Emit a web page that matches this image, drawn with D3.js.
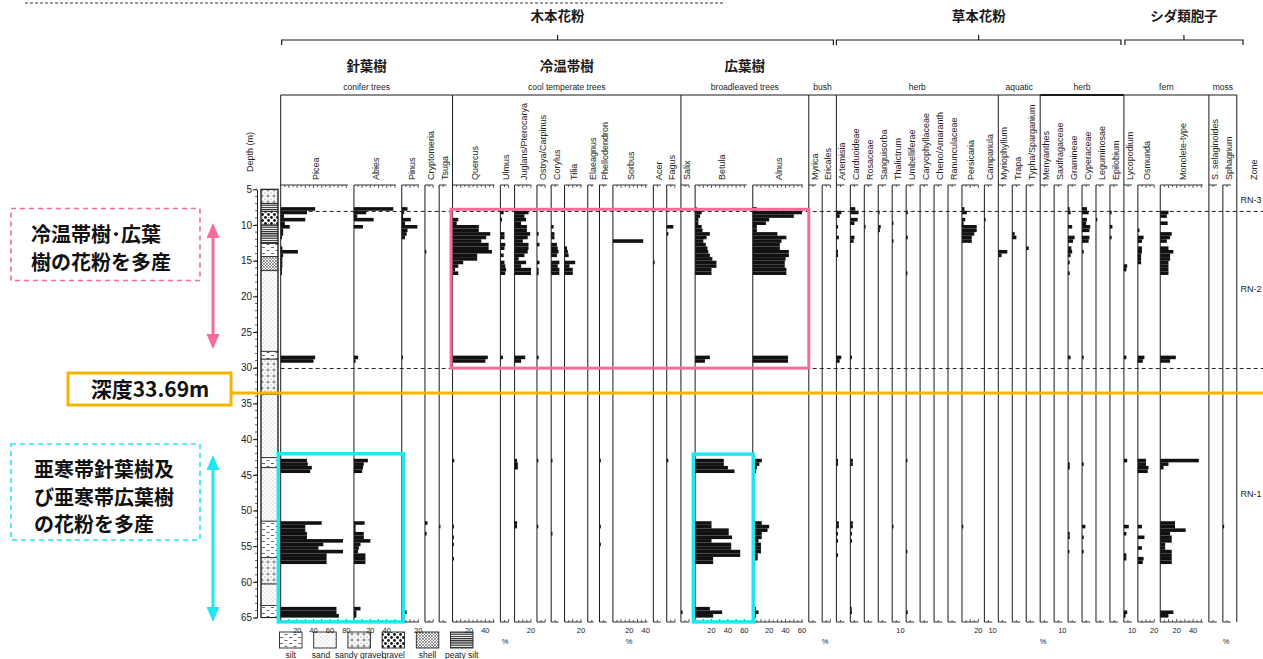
<!DOCTYPE html>
<html><head><meta charset="utf-8">
<script src="https://cdn.jsdelivr.net/npm/d3@7/dist/d3.min.js"></script>
<style>body{margin:0;background:#fff;}svg{display:block;}</style>
</head><body>
<svg id="c" width="1263" height="659"></svg>
<script>
// ================= DATA =================
// sample depths (m)
const sampleDepths = [7.75,8.25,8.75,9.25,9.75,10.25,10.75,11.25,11.75,12.25,12.75,13.25,13.75,14.25,14.75,15.25,15.75,16.25,16.75,
  28.55,29.05,
  43.0,43.5,44.0,44.5,
  51.75,52.25,52.75,53.25,53.75,54.25,54.75,55.25,55.75,56.25,56.75,57.25,
  63.75,64.25,64.75];

const taxaNames = ["Picea","Abies","Pinus","Cryptomeria","Tsuga","Quercus","Ulmus","Juglans/Pterocarya","Ostrya/Carpinus","Corylus","Tilia","Elaeagnus","Phellodendron","Sorbus","Acer","Fagus","Salix","Betula","Alnus","Myrica","Ericales","Artemisia","Carduoideae","Rosaceae","Sanguisorba","Thalictrum","Umbelliferae","Caryophyllaceae","Cheno/Amaranth","Ranunculaceae","Persicaria","Campanula","Myriophyllum","Trapa","Typha/Sparganium","Menyanthes","Saxifragaceae","Gramineae","Cyperaceae","Leguminosae","Epilobium","Lycopodium","Osmunda","Monolete-type","S. selaginoides","Sphagnum"];

// percentages, one value per sample depth
const Picea       = [42,32,4,30,5,11,3,3,1,0,0,2,21,3,2,2,2,1,1, 42,40, 32,33,38,36, 50,30,30,32,32,76,52,46,76,56,56,56, 68,68,71];
const Abies       = [48,15,4,24,0,11,0,0,0,0,0,0,0,0,0,0,0,0,0, 5,2, 17,12,11,10, 13,2,2,12,12,20,8,6,5,14,14,14, 8,3,3];
const Pinus       = [7,3,1,11,4,19,7,6,4,0,0,0,0,0,0,0,0,0,0, 1,0, 0,0,0,0, 0,0,0,0,0,0,0,0,0,0,0,0, 0,6,0];
const Cryptomeria = [0,0,0,0,0,0,0,0,0,0,0,0,1,0,0,0,0,0,0, 0,0, 0,0,0,0, 3,0,0,2,0,0,0,0,0,0,0,0, 0,0,0];
const Tsuga       = [0,0,0,0,0,0,0,0,0,0,0,0,0,0,0,0,0,0,0, 0,0, 0,0,0,0, 0,1.5,0,0,0,0,0,0,0,0,0,0, 0,0,0];
const Quercus     = [0,0,0,7,5,32,32,46,41,35,44,44,48,30,30,13,7,3,7, 43,40, 2,0,0,0, 0,1,0,0,1,0,1,0,0,0,1,0, 0,0,0];
const Ulmus       = [0,4,0,2,0,0,0,5,5,0,6,5,0,4,0,5,6,7,6, 3,0, 0,0,0,0, 0,0,0,0,0,0,0,0,0,0,0,0, 0,0,0];
const Juglans     = [0,17,12,14,8,15,15,19,16,10,17,17,16,12,5,14,8,20,20, 13,8, 3,4,4,0, 3,3,0,0,0,0,0,0,0,0,0,0, 0,0,0];
const Ostrya      = [0,0,0,0,0,0,0,2,0,0,3,0,0,0,0,3,0,2,2, 2,0, 1,0,0,0, 0,1,0,0,0,0,0,0,0,0,0,0, 0,0,0];
const Corylus     = [0,0,0,0,0,3,0,4,4,0,7,8,9,7,0,10,8,10,10, 0,0, 1,0,0,0, 0,0,0,1,0,0,0,0,0,0,0,0, 0,0,0];
const Tilia       = [0,0,0,0,0,0,0,0,0,0,0,3,4,5,0,13,6,10,10, 0,0, 0,0,0,0, 0,0,0,0,0,0,0,0,0,0,0,0, 0,0,0];
const Elaeagnus   = [0,0,0,0,0,0,0,0,0,0,0,0,0,0,0,0,0,0,0, 0,0, 0,0,0,0, 0,0,0,0,0,0,0,0,0,0,0,0, 0,0,0];
const Phellodendron=[0,0,0,0,0,0,0,0,0,0,0,0,0,0,0,0,0,0,0, 0,0, 1,0,0,0, 0,1,0,0,0,0,1,0,0,0,0,0, 0,0,0];
const Sorbus      = [0,0,0,0,0,0,0,0,0,37,0,0,0,0,0,0,0,0,0, 0,0, 0,0,0,0, 0,0,0,0,0,0,0,0,0,0,0,0, 0,0,0];
const Acer        = [0,0,0,0,0,0,0,0,0,0,0,0,0,0,0,1,0,0,0, 0,0, 0,0,0,0, 0,0,0,0,0,0,0,0,0,0,0,0, 0,0,0];
const Fagus       = [0,0,0,0,0,8,0,2,0,0,0,0,0,0,0,0,0,0,0, 0,0, 2,0,0,0, 0,0,0,0,0,0,0,0,0,0,0,0, 0,0,0];
const Salix       = [0,0,0,0,0,0,0,0,0,0,0,0,0,0,0,0,0,0,0, 0,0, 0,0,0,0, 0,0,0,0,0,0,0,0,0,0,0,0, 0,2,0];
const Betula      = [2,8,6,4,4,8,9,18,14,10,13,15,16,18,21,26,26,20,20, 18,12, 35,35,40,48, 20,20,41,41,45,20,44,44,55,55,22,22, 18,33,22];
const Alnus       = [5,60,50,20,16,5,5,30,41,35,33,33,44,44,40,39,39,41,41, 43,43, 11,8,5,4, 11,20,18,11,11,7,10,10,10,6,6,0, 4,7,4];
const Myrica      = [0,0,0,0,0,0,0,0,0,0,0,0,0,0,0,0,0,0,0, 0,0, 0,0,0,0, 0,0,0,0,0,0,0,0,0,0,0,0, 0,0,0];
const Ericales    = [0,0,0,0,0,0,0,0,0,0,0,0,0,0,0,0,0,0,0, 0,0, 0,0,0,0, 0,0,0,0,0,0,0,0,0,0,0,0, 0,0,0];
const Artemisia   = [0,6,4,0,0,2,0,0,3,0,0,0,2,2,0,0,0,0,0, 6,4, 2,2,0,0, 3,3,0,2,0,2,0,0,0,2,0,0, 0,0,0];
const Carduoideae = [6,10,0,9,5,0,0,0,5,4,0,0,0,0,0,0,0,0,0, 2,0, 3,3,0,0, 3,3,0,2,0,2,0,0,0,0,0,0, 1,2,0];
const Rosaceae    = [0,0,0,0,0,1,0,0,0,0,0,0,0,0,0,0,0,0,0, 0,0, 0,0,0,0, 0,0,0,0,0,0,0,0,0,0,0,0, 0,0,0];
const Sanguisorba = [0,1,0,0,0,3,2,0,0,0,0,0,0,0,0,0,0,0,0, 0,0, 0,0,0,0, 0,0,0,0,0,0,0,0,0,0,0,0, 0,0,0];
const Thalictrum  = [0,0,0,0,1,0,0,0,0,1,0,0,0,0,0,0,0,0,0, 0,0, 0,0,0,0, 0,1,0,0,0,0,0,0,0,0,0,0, 0,0,0];
const Umbelliferae= [0,2,0,0,0,0,0,0,2,0,0,0,0,0,0,0,0,0,1, 0,0, 1,0,0,0, 0,0,0,0,0,0,0,0,1,0,0,0, 0,2,0];
const Caryophyllaceae=[0,0,0,0,0,0,0,0,0,0,0,0,0,0,0,0,0,0,0, 0,0, 0,0,0,0, 0,0,0,0,0,0,0,0,0,0,0,0, 0,0,0];
const Cheno       = [0,0,0,0,0,0,0,0,0,0,0,0,0,0,0,0,0,0,0, 0,0, 0,0,0,0, 0,0,0,0,0,0,0,0,0,0,0,0, 0,0,0];
const Ranunculaceae=[0,0,0,0,0,0,0,0,0,0,0,0,0,0,0,0,0,0,0, 0,0, 0,0,0,0, 0,0,0,0,0,0,0,0,0,0,0,0, 0,0,0];
const Persicaria  = [3,6,0,4,2,18,18,15,12,12,0,0,0,0,0,0,0,0,0, 0,0, 0,0,0,0, 0,1,0,0,0,0,0,0,0,0,0,0, 0,0,0];
const Campanula   = [0,0,0,1,0,0,0,0,0,0,0,0,0,0,0,0,0,0,0, 0,0, 0,0,0,0, 0,0,0,0,0,0,0,0,0,0,0,0, 0,0,0];
const Myriophyllum= [0,0,0,0,0,0,0,0,0,0,0,0,11,4,0,0,0,0,0, 0,0, 0,0,0,0, 0,0,0,0,0,0,0,0,0,0,0,0, 0,0,0];
const Trapa       = [0,0,0,0,0,0,0,3,5,0,0,0,0,0,0,0,0,0,0, 0,0, 0,0,0,0, 0,0,0,0,0,0,0,0,0,0,0,0, 0,0,0];
const Typha       = [0,0,0,0,0,0,0,0,0,0,0,3,0,0,0,0,0,0,0, 0,0, 0,0,0,0, 0,0,0,0,0,0,0,0,0,0,0,0, 0,0,0];
const Menyanthes  = [0,0,0,0,0,0,0,0,0,0,0,0,0,0,0,0,0,0,0, 0,0, 0,0,0,0, 0,0,0,0,0,0,0,0,0,0,0,0, 0,0,0];
const Saxifragaceae=[0,0,0,0,0,0,0,0,0,0,0,0,0,0,0,0,0,0,0, 0,0, 0,0,0,0, 0,0,0,0,0,0,0,0,0,0,0,0, 0,0,0];
const Gramineae   = [2,3,0,0,0,5,0,0,8,6,0,4,5,3,0,2,0,0,2, 3,0, 0,2,2,0, 0,0,0,2,2,0,0,0,1,0,0,0, 0,0,0];
const Cyperaceae  = [6,8,0,6,5,10,9,0,9,8,0,0,2,0,0,0,0,0,0, 2,0, 0,2,0,0, 0,4,0,0,2,0,0,0,2,0,0,0, 0,0,0];
const Leguminosae = [0,0,0,1,0,0,0,0,0,0,0,0,0,0,0,0,0,0,0, 0,0, 0,0,0,0, 0,0,0,0,0,0,0,0,0,0,0,0, 0,0,0];
const Epilobium   = [0,2,0,0,0,3,0,0,2,0,0,0,0,0,0,0,0,0,0, 0,0, 0,0,0,0, 0,0,0,0,0,0,0,0,0,0,0,0, 0,0,0];
const Lycopodium  = [0,0,0,0,0,0,0,0,0,0,0,0,0,0,0,0,4,3,0, 3,0, 4,0,0,0, 0,6,0,3,0,0,0,0,0,3,3,0, 0,4,2];
const Osmunda     = [0,0,0,0,0,0,2,0,7,5,0,5,5,4,4,4,0,0,0, 8,6, 10,10,13,12, 0,5,0,0,8,0,0,5,0,0,7,6, 0,0,0];
const Monolete    = [0,10,8,0,9,0,0,14,12,8,0,10,16,12,12,10,10,10,10, 19,12, 47,10,4,0, 18,18,31,12,14,14,6,6,14,14,14,14, 0,16,10];
const Sselaginoides=[0,0,0,0,0,0,0,0,0,0,0,0,0,0,0,0,0,0,0, 0,0, 0,0,0,0, 0,0,0,0,0,0,0,0,0,0,0,0, 0,0,0];
const Sphagnum    = [0,0,0,0,0,0,0,0,0,0,0,0,0,0,0,0,0,0,0, 0,0, 0,0,0,0, 0,1,0,0,0,0,0,0,0,0,0,0, 0,0,0];

const taxaValues = [Picea,Abies,Pinus,Cryptomeria,Tsuga,Quercus,Ulmus,Juglans,Ostrya,Corylus,Tilia,Elaeagnus,Phellodendron,Sorbus,Acer,Fagus,Salix,Betula,Alnus,Myrica,Ericales,Artemisia,Carduoideae,Rosaceae,Sanguisorba,Thalictrum,Umbelliferae,Caryophyllaceae,Cheno,Ranunculaceae,Persicaria,Campanula,Myriophyllum,Trapa,Typha,Menyanthes,Saxifragaceae,Gramineae,Cyperaceae,Leguminosae,Epilobium,Lycopodium,Osmunda,Monolete,Sselaginoides,Sphagnum];

// scale range (%) of each column
const colRange = [82,51,21,10,9,51,10,20,10,9,21,7,9,42,9,10,10,63,61,9,10,
  9.7,9.7,9.7,9.7,9.7,9.7,9.7,9.7,9.7,20,9.7,9.7,9.7,9.7,9.7,9.7,9.7,9.7,9.7,9.7,9.7,20,52,9.7,9.7];

// groups
const groupNames = ["conifer trees","cool temperate trees","broadleaved trees","bush","herb","aquatic","herb","fern","moss"];
const groupStart = [0,5,16,19,21,32,35,41,44];

// bottom tick labels
const tickLabelTaxa   = ["Picea","Abies","Pinus","Quercus","Juglans/Pterocarya","Tilia","Sorbus","Betula","Alnus","Thalictrum","Persicaria","Campanula","Saxifragaceae","Lycopodium","Osmunda","Monolete-type"];
const tickLabelValues = [[20,40,60,80],[20,40],[20],[20,40],[20],[20],[20,40],[20,40,60],[20,40,60],[10],[20],[10],[10],[10],[20],[20,40]];
const percentX = [505,629,825,1043,1226];

// depth axis
const depthTicks = [5,10,15,20,25,30,35,40,45,50,55,60,65];

// lithology
const lithoTop  = [5,7,8.1,10,12.6,14.4,16.4,27.7,28.8,33.7,42.6,44,51.5,56.6,60.3,63.3];
const lithoBot  = [7,8.1,10,12.6,14.4,16.4,27.7,28.8,33.7,42.6,44,51.5,56.6,60.3,63.3,65];
const lithoType = ["sandy gravel","peaty silt","gravel","peaty silt","silt","shell","sand","silt","sandy gravel","sand","silt","sand","silt","sandy gravel","sand","silt"];
const legendTypes = ["silt","sand","sandy gravel","gravel","shell","peaty silt"];

// zones
const zoneBounds = [8.1, 30.1];
const zoneNames = ["RN-3","RN-2","RN-1"];
const zoneMid = [6.5, 19.0, 47.6];

// Japanese annotations
const topHeaders = ["木本花粉","草本花粉","シダ類胞子"];
const subHeaders = ["針葉樹","冷温帯樹","広葉樹"];
const pinkNote = ["冷温帯樹･広葉","樹の花粉を多産"];
const cyanNote = ["亜寒帯針葉樹及","び亜寒帯広葉樹","の花粉を多産"];
const markDepth = 33.69;
const markLabel = "深度33.69m";

// ================= DRAW =================
const svg = d3.select("#c");
const F = "'Liberation Sans', Arial, sans-serif";
const JP = "'Noto Sans CJK JP', 'Noto Sans', sans-serif";
const PINK = "#f76a9c", CYAN = "#22e6ef", ORANGE = "#f6b400", INK = "#1a1a1a";

const yS = d3.scaleLinear().domain([5,65]).range([189.3,617.6]);
const k = 0.82, gap = 6, x0 = 280.7;
const yTop = 185, yBot = 622;

let cx = x0;
const cols = taxaNames.map((n,i)=>{
  const w = colRange[i]*k + gap;
  const c = {name:n, vals:taxaValues[i], x:cx, w, range:colRange[i],
             xs: d3.scaleLinear().domain([0,colRange[i]]).range([cx, cx+colRange[i]*k])};
  cx += w; return c;
});
const xEnd = cx;

// ---- patterns ----
const defs = svg.append("defs");
const pid = t => "pat-" + t.replace(/ /g,"-");
function pat(t,w,h){ const p=defs.append("pattern").attr("id",pid(t)).attr("patternUnits","userSpaceOnUse").attr("width",w).attr("height",h);
  p.append("rect").attr("width",w).attr("height",h).attr("fill","#fff"); return p; }
let p;
p = pat("silt",9,6);
p.append("line").attr("x1",1).attr("x2",4).attr("y1",1.5).attr("y2",1.5).attr("stroke","#444").attr("stroke-width",0.8);
p.append("line").attr("x1",5.5).attr("x2",8.5).attr("y1",4.5).attr("y2",4.5).attr("stroke","#444").attr("stroke-width",0.8);
p = pat("sand",4,4);
p.append("circle").attr("cx",1).attr("cy",1).attr("r",0.45).attr("fill","#666");
p.append("circle").attr("cx",3).attr("cy",3).attr("r",0.45).attr("fill","#666");
p = pat("sandy gravel",6,6);
p.append("circle").attr("cx",1).attr("cy",1).attr("r",0.5).attr("fill","#444");
p.append("circle").attr("cx",4).attr("cy",4).attr("r",1.1).attr("fill","none").attr("stroke","#444").attr("stroke-width",0.7);
p.append("circle").attr("cx",4).attr("cy",1).attr("r",0.45).attr("fill","#666");
p.append("circle").attr("cx",1).attr("cy",4).attr("r",0.45).attr("fill","#666");
p = pat("gravel",6,6);
p.append("circle").attr("cx",1.5).attr("cy",1.5).attr("r",1.4).attr("fill","#111");
p.append("circle").attr("cx",4.5).attr("cy",4.5).attr("r",1.4).attr("fill","#111");
p.append("circle").attr("cx",4.5).attr("cy",1.5).attr("r",0.5).attr("fill","#777");
p = pat("shell",3,3);
p.append("path").attr("d","M0,0L3,3M3,0L0,3").attr("stroke","#555").attr("stroke-width",0.6);
p = pat("peaty silt",4,2.2);
p.append("rect").attr("y",0).attr("width",4).attr("height",1.2).attr("fill","#222");
const patUrl = t => "url(#" + pid(t) + ")";

// ---- top dashed line ----
svg.append("line").attr("x1",25).attr("x2",725).attr("y1",3).attr("y2",3)
  .attr("stroke","#333").attr("stroke-dasharray","3,2");

// ---- top headers with braces ----
const groupX = gi => cols[groupStart[gi]].x;
const groupEnd = gi => gi+1<groupStart.length ? cols[groupStart[gi+1]].x : xEnd;
const braces = [[cols[0].x+1, cols[20].x+cols[20].w-3], [cols[21].x, cols[40].x+cols[40].w-3], [cols[41].x+1, 1243]];
braces.forEach((b,i)=>{
  const m = (b[0]+b[1])/2;
  svg.append("path").attr("d",`M${b[0]},45V40H${b[1]}V45M${m},40V35`).attr("fill","none").attr("stroke",INK).attr("stroke-width",1.2);
  svg.append("text").attr("x",m).attr("y",21).attr("text-anchor","middle").attr("font-family",JP)
    .attr("font-weight","bold").attr("font-size",13.5).attr("fill",INK).text(topHeaders[i]);
});
subHeaders.forEach((t,i)=>{
  const m = (groupX(i)+groupEnd(i))/2;
  svg.append("text").attr("x",m).attr("y",71).attr("text-anchor","middle").attr("font-family",JP)
    .attr("font-weight","bold").attr("font-size",13.5).attr("fill",INK).text(t);
});

// ---- group headers ----
groupNames.forEach((g,i)=>{
  const a = groupX(i), b = groupEnd(i);
  svg.append("line").attr("x1",a).attr("x2",b).attr("y1",95).attr("y2",95).attr("stroke",INK).attr("stroke-width", i===6?2:1);
  svg.append("line").attr("x1",a).attr("x2",a).attr("y1",95).attr("y2",yTop).attr("stroke",INK);
  svg.append("text").attr("x",(a+b)/2).attr("y",90).attr("text-anchor","middle").attr("font-family",F)
    .attr("font-size",8.5).attr("fill","#222").text(g);
});
svg.append("line").attr("x1",xEnd).attr("x2",xEnd).attr("y1",95).attr("y2",yBot).attr("stroke",INK);

// ---- legend (drawn before tick labels) ----
legendTypes.forEach((t,i)=>{
  const lx = 279.5 + i*34.2;
  svg.append("rect").attr("x",lx).attr("y",632).attr("width",22.5).attr("height",16)
    .attr("fill",patUrl(t)).attr("stroke","#222").attr("stroke-width",0.9);
  svg.append("text").attr("x",lx+11.2 - (t==="sand"?4:0)).attr("y",658).attr("text-anchor","middle")
    .attr("font-family",F).attr("font-size",8.5).attr("fill","#222").text(t);
});

// ---- columns ----
cols.forEach(c=>{
  const g = svg.append("g");
  const lx = c.x + Math.max(5.5, c.w/2 - 2) + 3.2;
  g.append("text").attr("transform",`translate(${lx},180) rotate(-90)`).attr("font-family",F)
    .attr("font-size",9).attr("fill","#222").text(c.name);
  g.append("line").attr("x1",c.x).attr("x2",c.x).attr("y1",yTop).attr("y2",yBot).attr("stroke",INK).attr("stroke-width",1);
  const xe = c.xs(c.range);
  [[yTop,1],[yBot,-1]].forEach(([yy,dir])=>{
    g.append("line").attr("x1",c.x).attr("x2",xe).attr("y1",yy).attr("y2",yy).attr("stroke",INK).attr("stroke-width",0.9);
    g.selectAll(null).data(d3.range(5, c.range+0.01, 5)).join("line")
      .attr("x1",d=>c.xs(d)).attr("x2",d=>c.xs(d)).attr("y1",yy).attr("y2",d=>yy+dir*(d%10===0?3:2))
      .attr("stroke",INK).attr("stroke-width",0.7);
  });
  const data = sampleDepths.map((d,i)=>({d, v:c.vals[i]})).filter(o=>o.v>0);
  g.selectAll("rect").data(data).join("rect")
    .attr("x",c.x).attr("y",o=>yS(o.d-0.25))
    .attr("width",o=>Math.max(c.xs(o.v)-c.x, 1.3))
    .attr("height",o=>yS(o.d+0.25)-yS(o.d-0.25))
    .attr("fill","#111");
});

// bottom tick labels
tickLabelTaxa.forEach((n,i)=>{
  const c = cols[taxaNames.indexOf(n)];
  svg.selectAll(null).data(tickLabelValues[i]).join("text")
    .attr("x",d=>c.xs(d)).attr("y",632.5).attr("text-anchor","middle").attr("font-family",F)
    .attr("font-size",7.5).attr("fill","#222").text(d=>d);
});
svg.selectAll(null).data(percentX).join("text").attr("x",d=>d).attr("y",644).attr("text-anchor","middle")
  .attr("font-family",F).attr("font-size",7.5).attr("fill","#222").text("%");

// ---- depth axis & lithology ----
const litho = svg.append("g");
lithoTop.forEach((t,i)=>{
  litho.append("rect").attr("x",261).attr("width",17).attr("y",yS(t)).attr("height",yS(lithoBot[i])-yS(t))
    .attr("fill",patUrl(lithoType[i])).attr("stroke","#222").attr("stroke-width",0.8);
});
litho.append("rect").attr("x",261).attr("width",17).attr("y",yS(5)).attr("height",yS(65)-yS(5))
  .attr("fill","none").attr("stroke","#222").attr("stroke-width",1);
const dAxis = svg.append("g").attr("transform","translate(257,0)")
  .call(d3.axisLeft(yS).tickValues(depthTicks).tickSize(4).tickSizeOuter(0).tickPadding(1));
dAxis.select(".domain").attr("stroke",INK);
dAxis.selectAll("text").attr("font-family",F).attr("font-size",10).attr("fill","#222");
dAxis.selectAll("line").attr("stroke",INK);
svg.append("g").selectAll("line").data(d3.range(5,65.01,1)).join("line")
  .attr("x1",255).attr("x2",257).attr("y1",d=>yS(d)).attr("y2",d=>yS(d)).attr("stroke",INK).attr("stroke-width",0.7);
svg.append("text").attr("transform","translate(253,152) rotate(-90)").attr("text-anchor","middle")
  .attr("font-family",F).attr("font-size",9).attr("fill","#222").text("Depth (m)");

// ---- zones ----
zoneBounds.forEach(z=>{
  svg.append("line").attr("x1",x0).attr("x2",1263).attr("y1",yS(z)).attr("y2",yS(z))
    .attr("stroke","#222").attr("stroke-dasharray","4,3").attr("stroke-width",1);
});
zoneNames.forEach((z,i)=>{
  svg.append("text").attr("x",1251).attr("y",yS(zoneMid[i])).attr("dy","0.35em").attr("text-anchor","middle")
    .attr("font-family",F).attr("font-size",9).attr("fill","#222").text(z);
});
svg.append("text").attr("transform","translate(1257,180) rotate(-90)").attr("font-family",F)
  .attr("font-size",9).attr("fill","#222").text("Zone");

// ---- annotations ----
const ann = svg.append("g");
ann.append("rect").attr("x",cols[5].x-1.5).attr("y",yS(7.8)).attr("width",(cols[18].x+cols[18].w)-(cols[5].x-1.5))
  .attr("height",yS(30.05)-yS(7.8)).attr("fill","none").attr("stroke",PINK).attr("stroke-width",3);
ann.append("rect").attr("x",cols[0].x-2.4).attr("y",yS(42.05)).attr("width",cols[2].x+1.5-(cols[0].x-2.4))
  .attr("height",yS(65.6)-yS(42.05)).attr("fill","none").attr("stroke",CYAN).attr("stroke-width",3.5);
ann.append("rect").attr("x",cols[17].x-1.8).attr("y",yS(42.1)).attr("width",cols[18].x+0.5-(cols[17].x-1.8))
  .attr("height",yS(65.6)-yS(42.1)).attr("fill","none").attr("stroke",CYAN).attr("stroke-width",3.5);
const yMark = yS(markDepth) - 1;
ann.append("line").attr("x1",232).attr("x2",1263).attr("y1",yMark).attr("y2",yMark).attr("stroke",ORANGE).attr("stroke-width",3);
ann.append("rect").attr("x",68).attr("y",373).attr("width",163).attr("height",32).attr("fill","#fff")
  .attr("stroke",ORANGE).attr("stroke-width",3);
ann.append("text").attr("x",150).attr("y",397).attr("text-anchor","middle").attr("font-family",JP)
  .attr("font-weight","bold").attr("font-size",21).attr("fill","#111").text(markLabel);
function note(lines, y0, y1, color, ty, tx){
  ann.append("rect").attr("x",11).attr("y",y0).attr("width",189).attr("height",y1-y0).attr("fill","#fff")
    .attr("stroke",color).attr("stroke-width",1.6).attr("stroke-dasharray","5,4");
  lines.forEach((l,i)=>ann.append("text").attr("x",tx).attr("y",ty+i*27.5).attr("font-family",JP)
    .attr("font-weight","bold").attr("font-size",20).attr("fill","#111").text(l));
}
note(pinkNote, 208.5, 280.5, PINK, 242, 31);
note(cyanNote, 444, 540, CYAN, 477, 34);
function arrow(y0, y1, color){
  ann.append("line").attr("x1",213).attr("x2",213).attr("y1",y0+12).attr("y2",y1-12).attr("stroke",color).attr("stroke-width",3);
  ann.append("path").attr("d",`M213,${y0}L219.5,${y0+15}L206.5,${y0+15}Z`).attr("fill",color);
  ann.append("path").attr("d",`M213,${y1}L219.5,${y1-15}L206.5,${y1-15}Z`).attr("fill",color);
}
arrow(223, 349, PINK);
arrow(455, 622, CYAN);
</script>
</body></html>
